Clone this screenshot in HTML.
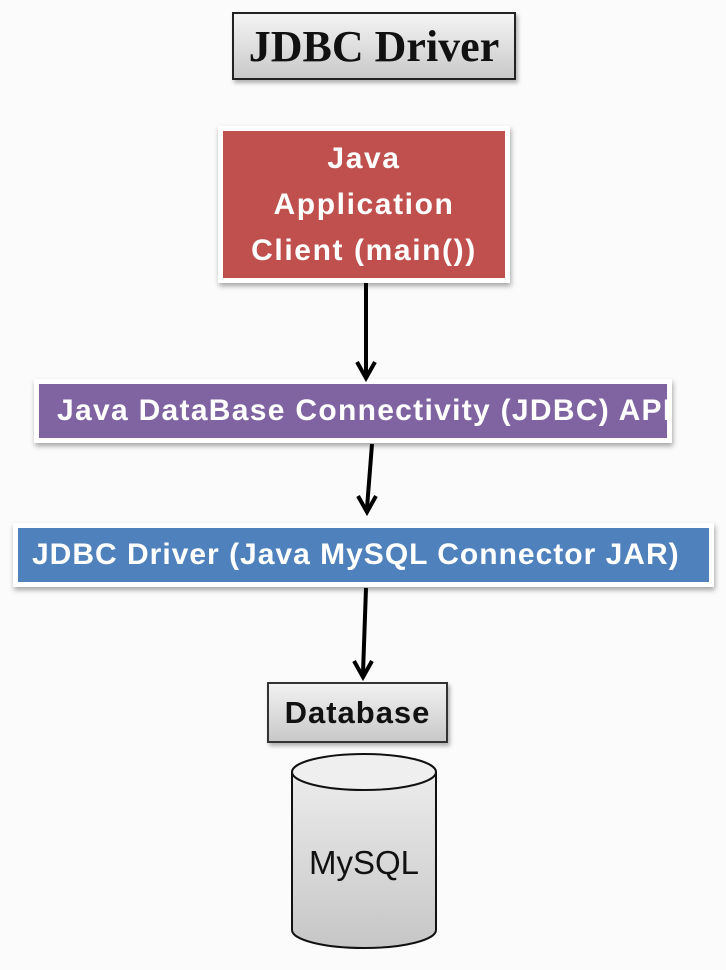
<!DOCTYPE html>
<html><head><meta charset="utf-8"><style>
body{margin:0;width:726px;height:970px;background:#fbfbfb;position:relative;overflow:hidden;font-family:"Liberation Sans",sans-serif}
.b{position:absolute;box-sizing:border-box;display:flex;align-items:center;justify-content:center;text-align:center;white-space:nowrap}
</style></head><body>
<div class="b" style="left:232px;top:12px;width:284px;height:68px;border:2px solid #222;background:linear-gradient(#f4f4f4,#c9c9c9);font-family:'Liberation Serif',serif;font-weight:bold;font-size:44px;color:#111;box-shadow:2px 3px 4px rgba(0,0,0,.3)">JDBC Driver</div>
<div class="b" style="left:218px;top:126px;width:292px;height:157px;border:5px solid #fff;background:#c0504d;color:#fff;font-weight:bold;font-size:30px;letter-spacing:1.6px;line-height:46px;box-shadow:1px 3px 5px rgba(0,0,0,.35)">Java<br>Application<br>Client (main())</div>
<div class="b" style="left:34px;top:379px;width:638px;height:64px;border:5px solid #fff;background:#8064a2;color:#fff;font-weight:bold;font-size:30px;letter-spacing:1.3px;box-shadow:1px 3px 5px rgba(0,0,0,.35);justify-content:flex-start;padding-left:18px">Java DataBase Connectivity (JDBC) API</div>
<div class="b" style="left:13px;top:523px;width:701px;height:64px;border:5px solid #fff;background:#4f81bd;color:#fff;font-weight:bold;font-size:30px;letter-spacing:1px;box-shadow:1px 3px 5px rgba(0,0,0,.35);justify-content:flex-start;padding-left:14px">JDBC Driver (Java MySQL Connector JAR)</div>
<div class="b" style="left:267px;top:682px;width:181px;height:61px;border:2px solid #333;background:linear-gradient(#f2f2f2,#c8c8c8);font-weight:bold;font-size:31px;letter-spacing:1px;color:#111;box-shadow:2px 3px 4px rgba(0,0,0,.3)">Database</div>
<svg width="726" height="970" style="position:absolute;left:0;top:0">
<defs><linearGradient id="g" x1="0" y1="0" x2="0" y2="1"><stop offset="0" stop-color="#ececec"/><stop offset="1" stop-color="#c6c6c6"/></linearGradient></defs>
<path d="M292,772 L292,930 A72,18 0 0 0 436,930 L436,772" fill="url(#g)" stroke="#111" stroke-width="2"/>
<ellipse cx="364" cy="772" rx="72" ry="18" fill="#efefef" stroke="#111" stroke-width="2"/>
<text x="364" y="874" text-anchor="middle" font-family="Liberation Sans,sans-serif" font-size="33" fill="#111">MySQL</text>
<g stroke="#000" stroke-width="4" fill="none">
<line x1="366" y1="283" x2="366" y2="374"/><polyline points="357,362 366,378 375,362"/>
<line x1="372" y1="444" x2="367" y2="508"/><polyline points="358,496 367,512 376,496"/>
<line x1="366" y1="588" x2="363" y2="673"/><polyline points="354,661 363,677 372,661"/>
</g>
</svg>
</body></html>
